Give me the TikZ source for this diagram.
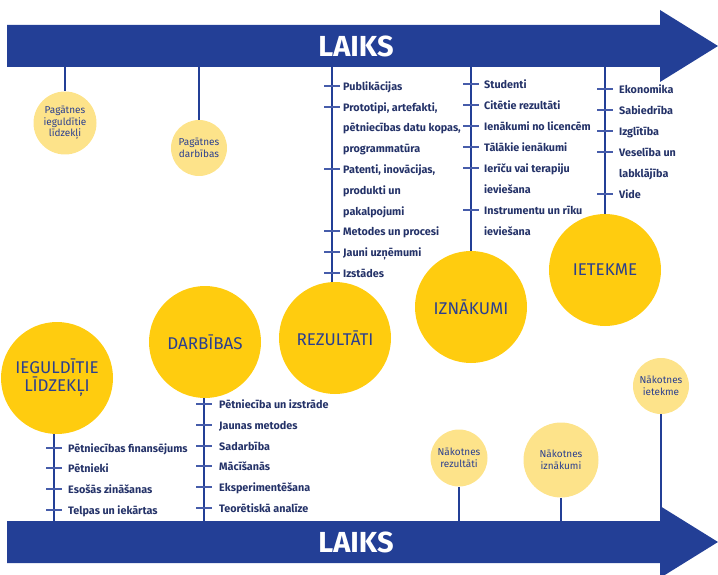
\documentclass[tikz,border=0pt]{standalone}
\usepackage{fontspec}
\setmainfont{Fira Sans}
\definecolor{arrowblue}{RGB}{35,63,150}
\definecolor{tickblue}{RGB}{70,92,170}
\definecolor{bigyellow}{RGB}{255,204,15}
\definecolor{lightyellow}{RGB}{253,227,138}
\definecolor{labelblue}{RGB}{43,63,143}
\definecolor{navy}{RGB}{36,50,104}
\begin{document}
\begin{tikzpicture}[x=1pt,y=-1pt,
  bigc/.style={circle, fill=bigyellow, minimum size=112pt, inner sep=0pt, text=labelblue, align=center, font=\fontsize{17}{18}\selectfont},
  smallc/.style={circle, fill=lightyellow, inner sep=0pt, text=labelblue, align=center, font=\fontsize{10}{11.7}\selectfont},
  stem/.style={draw=arrowblue, line width=2pt},
  tick/.style={draw=tickblue, line width=1.3pt},
  item/.style={anchor=base west, inner sep=0pt, text=navy, font=\bfseries\fontsize{10.8}{12}\selectfont},
  laiks/.style={text=white, font=\bfseries\fontsize{29}{30}\selectfont}]
\useasboundingbox (0,0) rectangle (718,575);
\clip (0,0) rectangle (718,575);
% time arrows
\fill[arrowblue] (7,25) -- (660,25) -- (660,10) -- (718,46) -- (660,82) -- (660,67) -- (7,67) -- cycle;
\fill[arrowblue] (7,521) -- (660,521) -- (660,506) -- (718,542) -- (660,578) -- (660,563) -- (7,563) -- cycle;
\node[laiks] (lt) at (356,46) {LAIKS};
\node[laiks] (lb) at (356,542) {LAIKS};
% stem anchors on arrows
\coordinate (t1) at (65,67);
\coordinate (t2) at (199,67);
\coordinate (t3) at (332,67);
\coordinate (t4) at (471,67);
\coordinate (t5) at (605,67);
\coordinate (b1) at (54,521);
\coordinate (b2) at (204,521);
\coordinate (b3) at (459,521);
\coordinate (b4) at (561,521);
\coordinate (b5) at (661,521);
% circles
\node[smallc, minimum size=63pt] (pil) at (65,123) {Pagātnes\\ieguldītie\\līdzekļi};
\node[smallc, minimum size=56pt] (pd) at (199,148) {Pagātnes\\darbības};
\node[smallc, minimum size=57pt] (nr) at (459,458) {Nākotnes\\rezultāti};
\node[smallc, minimum size=75pt] (ni) at (561,460) {Nākotnes\\iznākumi};
\node[smallc, minimum size=56pt] (nie) at (661,386) {Nākotnes\\ietekme};
% stems
\draw[stem] (t1) -- (pil);
\draw[stem] (t2) -- (pd);
\draw[stem] (t3) -- (t3 |- 0,290);
\draw[stem] (t4) -- (t4 |- 0,258);
\draw[stem] (t5) -- (t5 |- 0,220);
\draw[stem] (b1) -- (b1 |- 0,425);
\draw[stem] (b2) -- (b2 |- 0,390);
\draw[stem] (b3) -- (nr);
\draw[stem] (b4) -- (ni);
\draw[stem] (b5) -- (nie);
\node[bigc] (ieg) at (57,378) {IEGULDĪTIE\\LĪDZEKĻI};
\node[bigc] (darb) at (205,342) {DARBĪBAS};
\node[bigc] (rez) at (335,338) {REZULTĀTI};
\node[bigc] (izn) at (471,307) {IZNĀKUMI};
\node[bigc] (iet) at (605,270) {IETEKME};
% lists
\foreach \t/\y/\k [count=\i] in {Publikācijas/86/1, {Prototipi, artefakti,}/107/1, {pētniecības datu kopas,}/127/0, programmatūra/148/0, {Patenti, inovācijas,}/169/1, produkti un/190/0, pakalpojumi/211/0, Metodes un procesi/231/1, Jauni uzņēmumi/252/1, Izstādes/273/1}{
  \node[item] (ra\i) at (343,\y+4.5) {\t};
  \ifnum\k=1 \draw[tick] (324,\y) -- (340,\y); \fi
}
\foreach \t/\y/\k [count=\i] in {Studenti/84/1, Citētie rezultāti/105/1, Ienākumi no licencēm/126/1, Tālākie ienākumi/147/1, Ierīču vai terapiju/168/1, ieviešana/189/0, Instrumentu un rīku/210/1, ieviešana/231/0}{
  \node[item] (za\i) at (484,\y+4.5) {\t};
  \ifnum\k=1 \draw[tick] (463,\y) -- (479,\y); \fi
}
\foreach \t/\y/\k [count=\i] in {Ekonomika/89/1, Sabiedrība/110/1, Izglītība/131/1, Veselība un/152/1, labklājība/173/0, Vide/194/1}{
  \node[item] (ea\i) at (619,\y+4.5) {\t};
  \ifnum\k=1 \draw[tick] (597,\y) -- (613,\y); \fi
}
\foreach \t/\y [count=\i] in {Pētniecības finansējums/448, Pētnieki/468, Esošās zināšanas/489, Telpas un iekārtas/510}{
  \node[item] (ia\i) at (68,\y+4.5) {\t};
  \draw[tick] (46,\y) -- (62,\y);
}
\foreach \t/\y [count=\i] in {Pētniecība un izstrāde/404, Jaunas metodes/425, Sadarbība/446, Mācīšanās/466, Eksperimentēšana/487, Teorētiskā analīze/508}{
  \node[item] (da\i) at (219,\y+4.5) {\t};
  \draw[tick] (196,\y) -- (212,\y);
}
\end{tikzpicture}
\end{document}
